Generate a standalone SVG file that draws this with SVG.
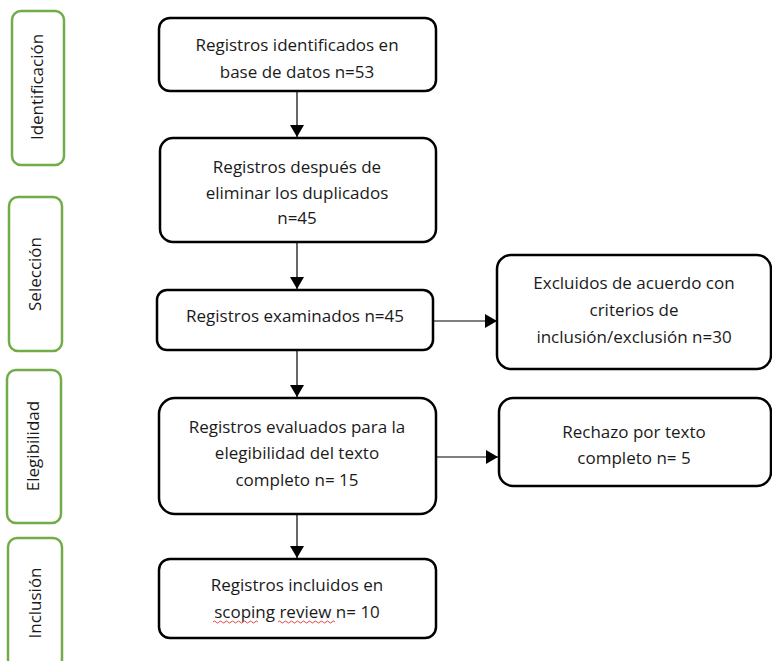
<svg xmlns="http://www.w3.org/2000/svg" width="772" height="661" viewBox="0 0 772 661">
<defs>
<style>
.box{fill:#fff;stroke:#000;stroke-width:2.5}
.phase{fill:#fff;stroke:#70AD47;stroke-width:2.5}
.t{font-family:"Open Sans","Liberation Sans",sans-serif;font-size:17px;fill:#1a1a1a;text-anchor:middle}
.c{stroke:#000;stroke-width:1.2;fill:none}
.sq{fill:none;stroke:#e03030;stroke-width:0.9}
</style>
<marker id="ah" viewBox="0 0 12 14" refX="12" refY="7" markerWidth="12" markerHeight="14" markerUnits="userSpaceOnUse" orient="auto">
<path d="M0,0 L12,7 L0,14 Z" fill="#000"/>
</marker>
</defs>
<rect width="772" height="661" fill="#fff"/>
<g id="phase-identificacion"><rect class="phase" x="12" y="11" width="52" height="154" rx="9"/><text class="t" transform="translate(43,87) rotate(-90)">Identificación</text></g>
<g id="phase-seleccion"><rect class="phase" x="9" y="197" width="53" height="154" rx="9"/><text class="t" transform="translate(41,274) rotate(-90)">Selección</text></g>
<g id="phase-elegibilidad"><rect class="phase" x="7" y="370" width="54" height="153" rx="9"/><text class="t" transform="translate(39,446) rotate(-90)">Elegibilidad</text></g>
<g id="phase-inclusion"><rect class="phase" x="8" y="538" width="54" height="130" rx="9"/><text class="t" transform="translate(41,603) rotate(-90)">Inclusión</text></g>
<g id="connectors">
<line class="c" x1="297" y1="92" x2="297" y2="137" marker-end="url(#ah)"/>
<line class="c" x1="297" y1="242" x2="297" y2="289" marker-end="url(#ah)"/>
<line class="c" x1="297" y1="350" x2="297" y2="397" marker-end="url(#ah)"/>
<line class="c" x1="297" y1="514" x2="297" y2="558" marker-end="url(#ah)"/>
<line class="c" x1="433" y1="321" x2="497" y2="321" marker-end="url(#ah)"/>
<line class="c" x1="433" y1="457" x2="498" y2="457" marker-end="url(#ah)"/>
</g>
<g id="n1"><rect class="box" x="159" y="18" width="277" height="73" rx="11"/><text class="t" x="297" y="51">Registros identificados en</text><text class="t" x="297" y="78">base de datos n=53</text></g>
<g id="n2"><rect class="box" x="160" y="138" width="276" height="104" rx="13"/><text class="t" x="297" y="173">Registros después de</text><text class="t" x="297" y="199">eliminar los duplicados</text><text class="t" x="297" y="224">n=45</text></g>
<g id="n3"><rect class="box" x="157" y="290" width="276" height="60" rx="10"/><text class="t" x="295" y="322">Registros examinados n=45</text></g>
<g id="n4"><rect class="box" x="497" y="255" width="274" height="114" rx="14"/><text class="t" x="634" y="289">Excluidos de acuerdo con</text><text class="t" x="634" y="316">criterios de</text><text class="t" x="634" y="343">inclusión/exclusión n=30</text></g>
<g id="n5"><rect class="box" x="499" y="398" width="272" height="88" rx="14"/><text class="t" x="634" y="438">Rechazo por texto</text><text class="t" x="634" y="464">completo n= 5</text></g>
<g id="n6"><rect class="box" x="159" y="398" width="277" height="116" rx="16"/><text class="t" x="297" y="433">Registros evaluados para la</text><text class="t" x="297" y="459">elegibilidad del texto</text><text class="t" x="297" y="486">completo n= 15</text></g>
<g id="n7"><rect class="box" x="159" y="559" width="277" height="79" rx="11"/><text class="t" x="297" y="591">Registros incluidos en</text><text class="t" x="297" y="618">scoping review n= 10</text>
<path class="sq" d="M213,622 q1.5,-2 3,0 t3,0 t3,0 t3,0 t3,0 t3,0 t3,0 t3,0 t3,0 t3,0 t3,0 t3,0 t3,0 t3,0 t3,0"/>
<path class="sq" d="M278,622 q1.5,-2 3,0 t3,0 t3,0 t3,0 t3,0 t3,0 t3,0 t3,0 t3,0 t3,0 t3,0 t3,0 t3,0 t3,0 t3,0 t3,0 t3,0 t3,0 t3,0"/></g>
</svg>
